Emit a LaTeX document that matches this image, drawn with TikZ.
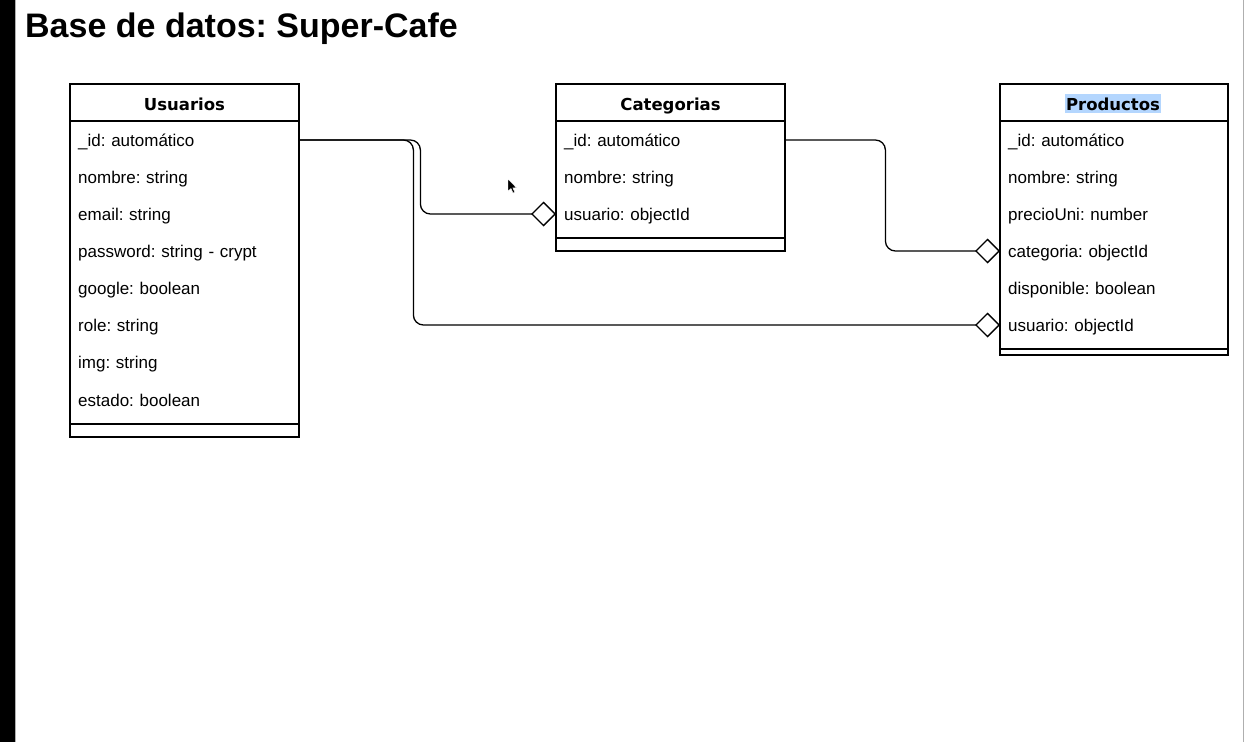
\documentclass[tikz,border=0pt]{standalone}
\usepackage{fontspec}
\setmainfont{Liberation Sans}
\newfontfamily\hdfont{DejaVu Sans}
\usetikzlibrary{arrows.meta}
\definecolor{hl}{RGB}{180,214,254}
\definecolor{edgegray}{RGB}{175,175,175}
\frenchspacing
\begin{document}
\begin{tikzpicture}[x=1pt,y=-1pt,
  boxline/.style={line width=1.3pt},
  row/.style={anchor=west, minimum width=229pt, minimum height=37pt, text width=213pt, align=left, inner xsep=8pt, inner ysep=0pt, text height=14pt, text depth=2pt, font=\fontsize{17}{20}\selectfont},
  head/.style={font=\hdfont\bfseries\fontsize{16.5}{19}\selectfont, inner sep=1.5pt, text height=14.5pt, text depth=1.5pt},
  conn/.style={line width=1.3pt, rounded corners=10pt, -{Diamond[open,length=25pt,width=25pt]}},
]
\useasboundingbox (0,0) rectangle (1246,742);
\fill[white] (0,0) rectangle (1246,742);
\fill[black] (0,0) rectangle (15,742);
\draw[edgegray, line width=1pt] (15.5,0) -- (15.5,742);
\draw[edgegray, line width=1.2pt] (1243.5,0) -- (1243.5,742);

\node[anchor=base west, font=\bfseries\fontsize{34}{40}\selectfont, inner sep=0pt] (title) at (25,37) {Base de datos: Super-Cafe};

% Usuarios
\draw[boxline] (70,84) rectangle (299,437);
\draw[boxline] (70,121) -- (299,121);
\draw[boxline] (70,424) -- (299,424);
\node[head] (uh) at (184.5,103.5) {Usuarios};
\node[row] (u1) at (70,140) {\_id: automático};
\node[row] (u2) at (70,177) {nombre: string};
\node[row] (u3) at (70,214) {email: string};
\node[row] (u4) at (70,251) {password: string - crypt};
\node[row] (u5) at (70,288) {google: boolean};
\node[row] (u6) at (70,325) {role: string};
\node[row] (u7) at (70,362) {img: string};
\node[row] (u8) at (70,400) {estado: boolean};

% Categorias
\draw[boxline] (556,84) rectangle (785,251);
\draw[boxline] (556,121) -- (785,121);
\draw[boxline] (556,238) -- (785,238);
\node[head] (ch) at (670.5,103.5) {Categorias};
\node[row] (c1) at (556,140) {\_id: automático};
\node[row] (c2) at (556,177) {nombre: string};
\node[row] (c3) at (556,214) {usuario: objectId};

% Productos
\draw[boxline] (1000,84) rectangle (1228,355);
\draw[boxline] (1000,121) -- (1228,121);
\draw[boxline] (1000,349) -- (1228,349);
\node[head, fill=hl] (ph) at (1113,103.5) {Productos};
\node[row, minimum width=228pt, text width=212pt] (p1) at (1000,140) {\_id: automático};
\node[row, minimum width=228pt, text width=212pt] (p2) at (1000,177) {nombre: string};
\node[row, minimum width=228pt, text width=212pt] (p3) at (1000,214) {precioUni: number};
\node[row, minimum width=228pt, text width=212pt] (p4) at (1000,251) {categoria: objectId};
\node[row, minimum width=228pt, text width=212pt] (p5) at (1000,288) {disponible: boolean};
\node[row, minimum width=228pt, text width=212pt] (p6) at (1000,325) {usuario: objectId};

% connectors
\draw[conn] (u1.east) -- ++(114,0) |- (p6.west);
\draw[conn] (u1.east) -- ++(121,0) |- (c3.west);
\draw[conn] (c1.east) -- ++(100,0) |- (p4.west);

% mouse pointer
\filldraw[fill=black, draw=white, line width=0.4pt] (508,179) -- ++(0,12) -- ++(3,-2.5) -- ++(2,4.5) -- ++(1.8,-0.8) -- ++(-2,-4.4) -- ++(3.7,0) -- cycle;
\end{tikzpicture}
\end{document}
